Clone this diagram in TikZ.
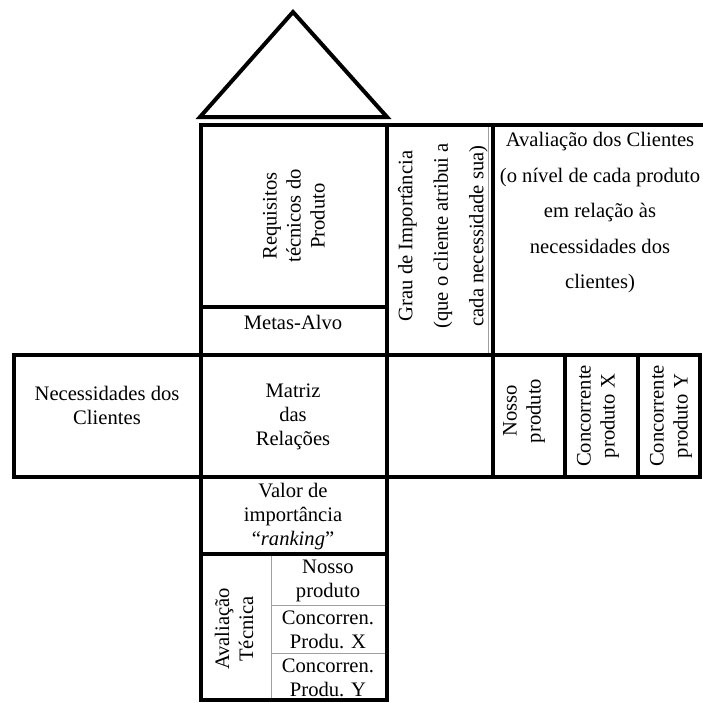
\documentclass[tikz,border=0pt]{standalone}
\usepackage{fontspec}
\setmainfont{Liberation Serif}
\begin{document}
\begin{tikzpicture}[x=1pt,y=-1pt,
  heavy/.style={line width=3.4pt,black,line cap=rect},
  fine/.style={line width=0.9pt,gray!75},
  lbl/.style={inner sep=0pt,align=center,font=\fontsize{20.6}{24}\selectfont},
  lblwide/.style={inner sep=0pt,align=center,font=\fontsize{20.6}{35.5}\selectfont}]
\useasboundingbox (0,0) rectangle (703,702);
% roof
\draw[line width=4pt,line join=miter] (293,12) -- (387,117) -- (200,117) -- cycle;
% fine lines
\draw[fine] (488,125) -- (488,355);
\draw[fine] (271,554) -- (271,700);
\draw[fine] (271,605) -- (387,605);
\draw[fine] (271,653) -- (387,653);
% heavy lines
\draw[heavy] (201,125) -- (703,125);
\draw[heavy] (201,307) -- (387,307);
\draw[heavy] (14,355) -- (700,355);
\draw[heavy] (14,477) -- (700,477);
\draw[heavy] (201,554) -- (387,554);
\draw[heavy] (201,700) -- (387,700);
\draw[heavy] (14,355) -- (14,477);
\draw[heavy] (201,125) -- (201,700);
\draw[heavy] (387,125) -- (387,700);
\draw[heavy] (493,125) -- (493,477);
\draw[heavy] (565,355) -- (565,477);
\draw[heavy] (638,355) -- (638,477);
\draw[heavy] (700,355) -- (700,477);
% texts
\node[lbl,rotate=90] (req) at (294,216) {Requisitos\\técnicos do\\Produto};
\node[lbl] (metas) at (293,322) {Metas-Alvo};
\node[lblwide,rotate=90] (grau) at (443,236) {Grau de Importância\\(que o cliente atribui a\\cada necessidade sua)};
\node[lblwide] (avcli) at (600,213) {Avaliação dos Clientes\\(o nível de cada produto\\em relação às\\necessidades dos\\clientes)};
\node[lbl] (nec) at (107,405) {Necessidades dos\\Clientes};
\node[lbl] (matriz) at (293,417) {Matriz\\das\\Relações};
\node[lbl,rotate=90] (nosso) at (524,411) {Nosso\\produto};
\node[lbl,rotate=90] (concx) at (598,416) {Concorrente\\produto X};
\node[lbl,rotate=90] (concy) at (671,416) {Concorrente\\produto Y};
\node[lbl] (valor) at (293,517) {Valor de\\importância\\“\textit{ranking}”};
\node[lbl,rotate=90] (avtec) at (234,629) {Avaliação\\Técnica};
\node[lbl] (tnosso) at (328,581) {Nosso\\produto};
\node[lbl] (tconcx) at (328,630) {Concorren.\\Produ. X};
\node[lbl] (tconcy) at (328,678) {Concorren.\\Produ. Y};
\end{tikzpicture}
\end{document}
